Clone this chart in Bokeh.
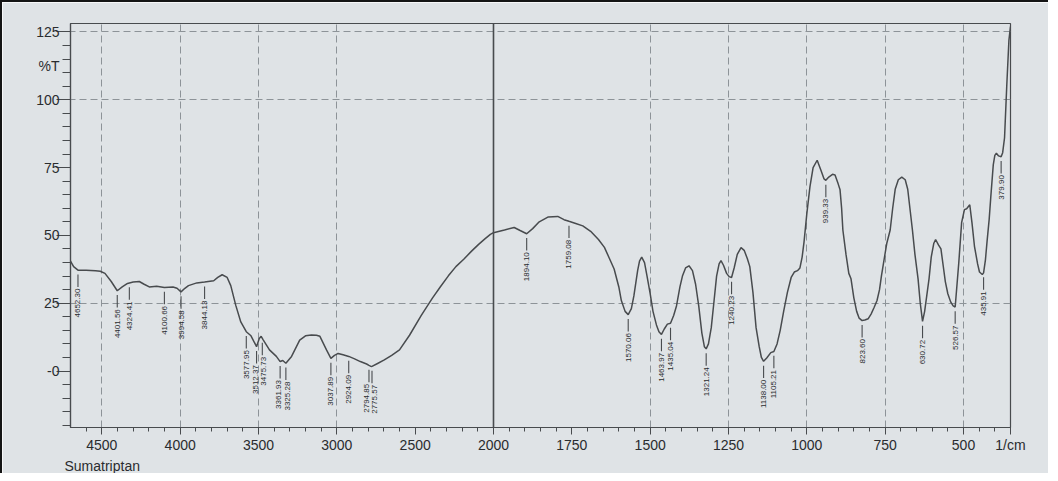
import numpy as np
from bokeh.plotting import figure
from bokeh.models import (Range1d, CustomJSTransform, CustomJSTickFormatter, FixedTicker, Span,
                          LinearAxis, Title, ColumnDataSource)
from bokeh.transform import transform
from bokeh.core.properties import value
from bokeh.embed import file_html
from bokeh.resources import INLINE

# ---------------- data ----------------
sample_name = "Sumatriptan"
x_unit = "1/cm"
y_unit = "%T"

wavenumber = [
    4700, 4680, 4652.30, 4600, 4540, 4510, 4480, 4440, 4401.56, 4370, 4336, 4300, 4261, 4230, 4197,
    4150, 4100.66, 4046, 4020, 3994.58, 3970, 3947, 3894, 3844.13, 3786, 3760, 3732, 3700, 3677,
    3645, 3613, 3577.95, 3548, 3512.37, 3495, 3483, 3470, 3430, 3386, 3361.93, 3345, 3325.28, 3289,
    3237, 3200, 3162, 3130, 3108, 3066, 3037.89, 3015, 2992, 2960, 2924.09, 2890, 2850, 2810,
    2794.85, 2785, 2775.57, 2740, 2697, 2650, 2600, 2536, 2461, 2390, 2340, 2288, 2240, 2190, 2140,
    2095, 2055, 2020, 2000,
    1965, 1934, 1915, 1894.10, 1875, 1854, 1825, 1795, 1775, 1759.08, 1740, 1715, 1690, 1665, 1646,
    1630, 1615, 1600, 1592, 1580, 1570.06, 1560, 1552, 1540, 1534, 1527, 1518, 1510, 1500, 1491,
    1480, 1472, 1463.97, 1455, 1445, 1435.04, 1425, 1416, 1405, 1397, 1387, 1376, 1365, 1355, 1345,
    1335, 1327, 1321.24, 1314, 1305, 1296, 1288, 1280, 1274, 1266, 1256, 1248, 1240.23, 1232, 1222,
    1210, 1200, 1190, 1182, 1172, 1162, 1152, 1145, 1138.00, 1128, 1115, 1105.21, 1095, 1085, 1074,
    1062, 1050, 1040, 1030, 1022, 1015, 1009, 1000, 990, 980, 967, 955, 945, 939.33, 930, 918, 910,
    900, 894, 889, 885, 875, 866, 859, 850, 841, 833, 823.60, 815, 804, 795, 785, 776, 768, 762, 755,
    745, 734, 726, 718, 708, 697, 686, 678, 670, 663, 655, 645, 638, 630.72, 624, 617, 610, 603, 595,
    589, 580, 572, 565, 558, 550, 541, 533, 526.57, 515, 506, 497, 490, 480, 473, 465, 455, 449, 440,
    435.91, 430, 425, 418, 413, 405, 400, 395, 388, 379.90, 375, 369, 362, 355, 350]

transmittance = [
    40.5, 38.5, 37.2, 37.2, 37.0, 36.8, 36.0, 33.0, 29.6, 31.0, 32.3, 32.8, 33.0, 32.0, 31.0,
    31.3, 30.8, 31.0, 30.5, 29.2, 30.5, 31.5, 32.5, 32.8, 33.3, 34.5, 35.5, 34.5, 31.5,
    24.2, 18.1, 14.5, 13.0, 9.0, 12.0, 12.8, 11.5, 7.8, 5.4, 3.5, 3.9, 2.9, 5.4,
    11.4, 13.0, 13.3, 13.2, 12.8, 7.8, 4.7, 5.8, 6.5, 6.0, 5.4, 4.6, 3.5, 2.6,
    2.1, 1.8, 1.7, 2.8, 4.1, 5.8, 7.8, 13.2, 20.5, 26.9, 31.0, 35.1, 38.5, 41.2, 44.2,
    46.7, 48.7, 50.4, 51.0,
    52.0, 52.9, 51.8, 50.6, 52.5, 55.0, 56.8, 57.0, 55.8, 55.2, 54.5, 53.5, 51.5, 48.5, 45.6,
    41.5, 37.6, 31.0, 26.0, 22.0, 20.8, 23.0, 27.7, 37.0, 40.5, 42.0, 40.0, 35.0, 28.5, 22.0,
    17.0, 14.5, 13.5, 15.5, 17.3, 17.6, 20.5, 24.0, 31.0, 35.0, 38.0, 38.8, 37.0, 32.0, 24.0,
    14.0, 9.0, 8.2, 10.0, 16.0, 26.0, 35.0, 39.5, 40.7, 39.0, 36.0, 34.8, 34.5, 38.0, 43.0,
    45.5, 44.5, 41.5, 38.5, 29.0, 16.0, 9.0, 5.0, 3.6, 4.8, 6.8, 7.2, 10.0, 15.0, 22.0,
    29.0, 34.5, 36.5, 37.0, 38.0, 42.0, 47.5, 58.0, 68.0, 75.0, 77.7, 74.0, 70.8, 70.3, 71.5, 72.5, 72.3,
    69.0, 66.8, 60.0, 52.0, 43.0, 36.0, 34.0, 27.0, 22.0, 19.5, 18.6, 18.8, 19.3, 21.0, 23.5, 26.0, 30.0, 35.0, 40.0,
    47.0, 52.0, 60.0, 67.0, 70.5, 71.5, 70.5, 67.0, 59.0, 52.0, 43.0, 34.0, 25.0, 18.3, 22.0, 28.0, 34.0, 42.0, 47.0,
    48.5, 46.5, 45.0, 39.0, 33.0, 28.5, 25.5, 24.0, 23.6, 40.0, 54.7, 59.5, 59.8, 61.3, 54.7, 46.0, 39.5, 36.5, 35.6,
    36.2, 41.0, 47.5, 56.0, 64.0, 76.0, 79.5, 80.3, 79.3, 79.0, 80.5, 86.0, 105.0, 122.0, 127.0]

peak_labels = [4652.30, 4401.56, 4324.41, 4100.66, 3994.58, 3844.13, 3577.95, 3512.37, 3475.73,
               3361.93, 3325.28, 3037.89, 2924.09, 2794.85, 2775.57, 1894.10, 1759.08, 1570.06,
               1463.97, 1435.04, 1321.24, 1240.23, 1138.00, 1105.21, 939.33, 823.60, 630.72,
               526.57, 435.91, 379.90]

y_ticks = [0, 25, 50, 75, 100, 125]
y_unit_pos = 112.5
y_grid = [25, 100, 125]
x_grid = [4500, 4000, 3500, 3000, 1500, 1250, 1000, 750, 500]
x_start, x_end = 4700, 350
y_start, y_end = -20.8, 128.1
BREAK = 2000  # above this wavenumber the scale is compressed by 2

# ---------------- styling ----------------
PAPER = "#dfe3e6"
INK = "#484b4e"
TXT = "#2a2c2f"
FONT = "Liberation Sans"


def disp(w):
    return w if w <= BREAK else BREAK + (w - BREAK) / 2.0


FRAME_W, FRAME_H = 940, 404
p = figure(frame_width=FRAME_W, frame_height=FRAME_H, output_backend="svg", toolbar_location=None,
           x_range=Range1d(disp(x_start), disp(x_end)), y_range=Range1d(y_start, y_end),
           min_border_left=68, min_border_right=38, min_border_top=21, min_border_bottom=4,
           styles={"border-top": "2px solid #151515", "border-left": "2px solid #151515"})
p.background_fill_color = PAPER
p.border_fill_color = PAPER
p.outline_line_color = INK
p.outline_line_width = 1.2

brk = CustomJSTransform(args=dict(B=BREAK), func="return x > B ? B + (x - B) / 2 : x;",
                        v_func="""
const out = new Float64Array(xs.length);
for (let i = 0; i < xs.length; i++) { const w = xs[i]; out[i] = w > B ? B + (w - B) / 2 : w; }
return out;""")

# x axis: majors every 250 display units (500 above the break), unit label at the right edge
d_lo, d_hi = disp(x_end), disp(x_start)
x_major = [float(v) for v in np.arange(500, d_hi, 250)] + [d_lo]
x_minor = [float(v) for v in np.arange(d_lo, d_hi, 50)]
p.xaxis.ticker = FixedTicker(ticks=x_major, minor_ticks=x_minor)
p.xaxis.formatter = CustomJSTickFormatter(args=dict(B=BREAK, E=d_lo, U=x_unit), code="""
const t = Math.round(tick);
if (Math.abs(tick - E) < 1e-6) { return U; }
return t > B ? String(B + (t - B) * 2) : String(t);""")
p.xaxis.major_tick_out = 7
p.xaxis.major_tick_in = 0
p.xaxis.minor_tick_out = 4
p.xaxis.minor_tick_in = 0
p.xaxis.major_label_standoff = 2

# y axis: inner axis draws ticks only, outer axis carries the labels (incl. %T)
p.yaxis.ticker = FixedTicker(ticks=y_ticks, minor_ticks=list(range(-20, 130, 5)))
p.yaxis.formatter = CustomJSTickFormatter(code="return '';")
p.yaxis.major_tick_out = 14
p.yaxis.major_tick_in = 0
p.yaxis.minor_tick_out = 8
p.yaxis.minor_tick_in = 0
p.yaxis.major_label_standoff = 0

ylab = LinearAxis(ticker=FixedTicker(ticks=y_ticks + [y_unit_pos], minor_ticks=[]),
                  major_label_overrides={0: "-0", y_unit_pos: y_unit},
                  axis_line_color=None, major_tick_line_color=None, minor_tick_line_color=None,
                  major_tick_out=0, major_tick_in=0, major_label_standoff=-3)
p.add_layout(ylab, "left")

for ax in (p.xaxis[0], p.yaxis[0], ylab):
    ax.major_label_text_font = FONT
    ax.major_label_text_font_size = "14px"
    ax.major_label_text_color = TXT
for ax in (p.xaxis[0], p.yaxis[0]):
    ax.axis_line_color = INK
    ax.axis_line_width = 1.2
    ax.major_tick_line_color = INK
    ax.minor_tick_line_color = INK

p.add_layout(Title(text=sample_name, align="left", offset=-6, standoff=0, text_font=FONT,
                   text_font_size="14px", text_font_style="normal", text_color=TXT), "below")

# grid
p.xgrid.ticker = FixedTicker(ticks=[disp(w) for w in x_grid])
p.ygrid.ticker = FixedTicker(ticks=y_grid)
for g in (p.xgrid, p.ygrid):
    g.grid_line_color = "#8d9398"
    g.grid_line_dash = "7 4"
    g.grid_line_width = 1

# solid divider at the scale break
p.add_layout(Span(location=disp(BREAK), dimension="height", line_color=INK, line_width=1.6))

# spectrum
src = ColumnDataSource(dict(wn=wavenumber, t=transmittance))
p.line(x=transform("wn", brk), y="t", source=src, line_color=INK, line_width=1.5)

# peak labels
wn_arr = np.array(wavenumber)
t_arr = np.array(transmittance)
order = np.argsort(wn_arr)
t_at = np.interp(peak_labels, wn_arr[order], t_arr[order])
px_per_unit = FRAME_W / (d_hi - d_lo)
px = np.array([(d_hi - disp(w)) * px_per_unit for w in peak_labels])
adj = px.copy()
for i in range(1, len(adj)):
    gap = adj[i] - adj[i - 1]
    if gap < 8.5:
        d = (8.5 - gap) / 2
        adj[i - 1] -= d
        adj[i] += d
offs = list(adj - px)

lab = ColumnDataSource(dict(
    wn=peak_labels,
    y0=list(t_at - 1.6), y1=list(t_at - 6.2), yt=list(t_at - 6.8),
    txt=["%.2f" % w for w in peak_labels], xo=offs))
p.segment(x0=transform("wn", brk), x1=transform("wn", brk), y0="y0", y1="y1", source=lab,
          line_color=INK, line_width=1.1)
p.text(x=transform("wn", brk), y="yt", text="txt", source=lab, angle=np.pi / 2, x_offset="xo",
       text_align="right", text_baseline="middle", text_font=value(FONT),
       text_font_size="8px", text_color=TXT)

open("out.html", "w").write(file_html(p, INLINE))
